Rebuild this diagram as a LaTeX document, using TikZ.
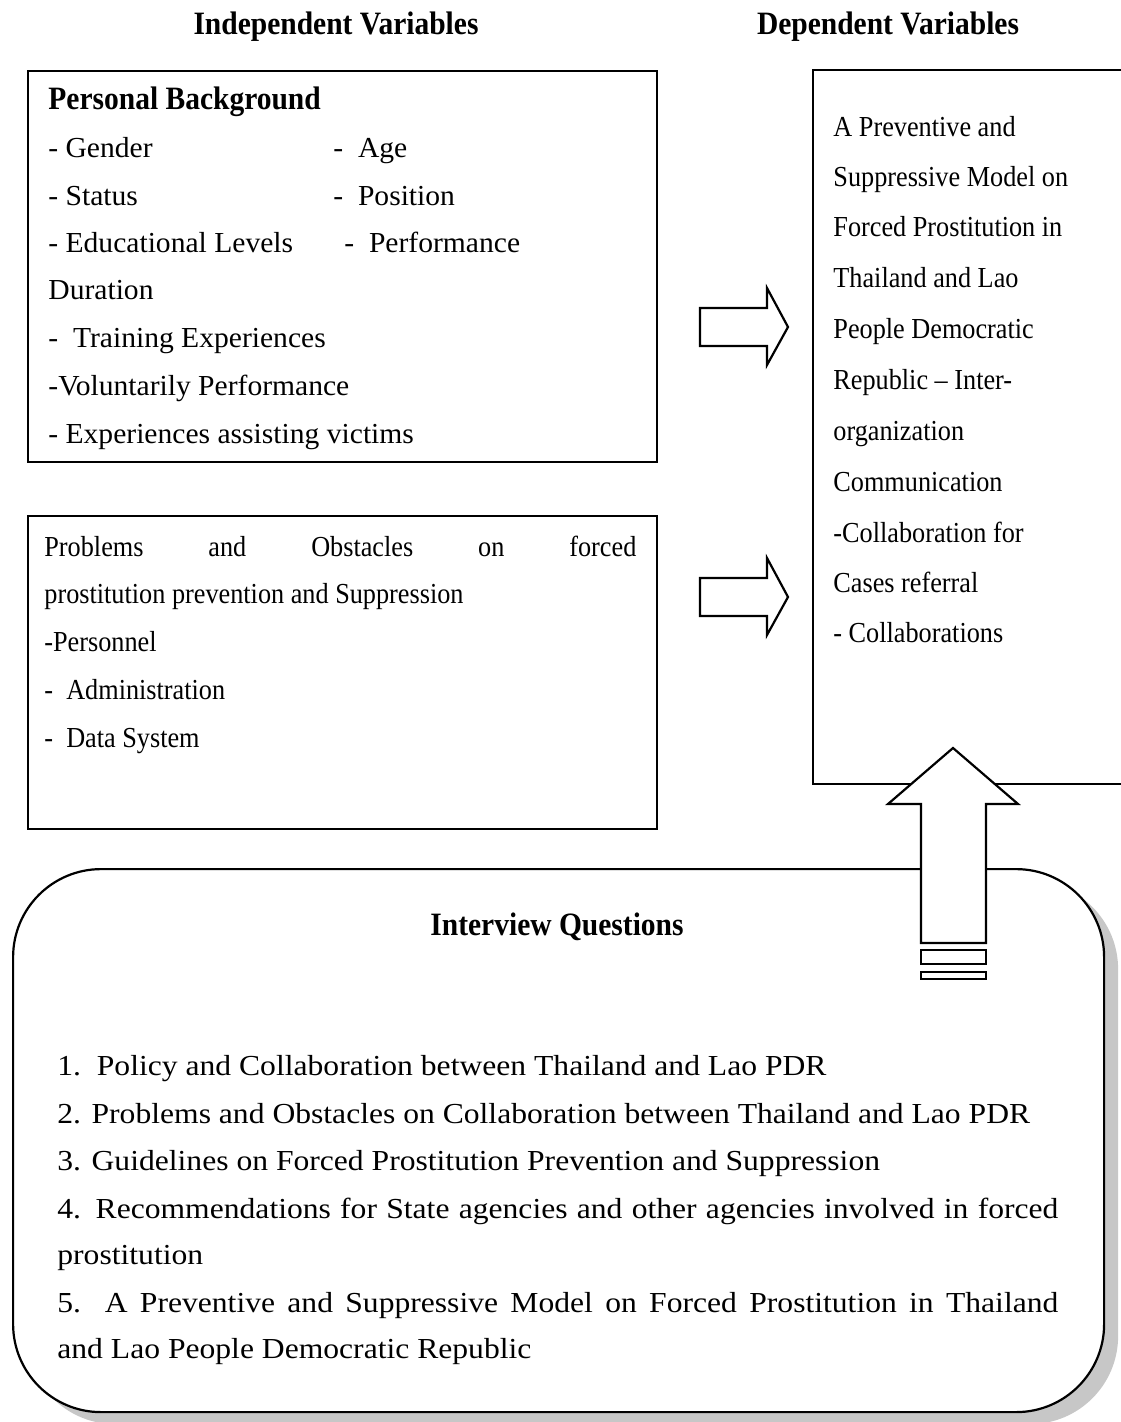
\documentclass[tikz,border=0pt]{standalone}
\usepackage{fontspec}
\setmainfont{Liberation Serif}[FakeStretch=0.905]
\newfontfamily\boxonefont{Liberation Serif}[FakeStretch=1.02]
\newfontfamily\iqfont{Liberation Serif}[FakeStretch=1.09]
\usetikzlibrary{shadows}
\begin{document}
\begin{tikzpicture}[x=0.5pt,y=-0.5pt,
  txt/.style={anchor=base west, inner sep=0pt, font=\fontsize{14.5}{17}\selectfont},
  txtone/.style={anchor=base west, inner sep=0pt, font=\fontsize{14.5}{17}\boxonefont},
  txtiq/.style={anchor=base west, inner sep=0pt, font=\fontsize{14.5}{17}\iqfont},
  hd/.style={anchor=base, inner sep=0pt, font=\fontsize{16.3}{19}\selectfont\bfseries},
  hdl/.style={anchor=base west, inner sep=0pt, font=\fontsize{16.3}{19}\selectfont\bfseries},
  box/.style={draw, line width=1.1pt, anchor=north west, inner sep=0pt},
  blockarrow/.style={draw, fill=white, line width=1.1pt, line join=miter}]
\useasboundingbox (0,0) rectangle (1120,1422);

% titles
\node[hd] (tind) at (336,35) {Independent Variables};
\node[hd] (tdep) at (888,35) {Dependent Variables};

% boxes
\node[box, minimum width=314.5pt, minimum height=195.5pt] (bg) at (27,70) {};
\node[box, minimum width=314.5pt, minimum height=156.5pt] (prob) at (27,515) {};
\node[anchor=north west, inner sep=0pt, minimum width=160pt, minimum height=357pt] (dep) at (813,70) {};
\draw[line width=1.1pt] (1130,70) -| (813,784) -- (1130,784);

% interview box
\node[draw, line width=1.1pt, fill=white, rounded corners=44pt, anchor=north west,
      inner sep=0pt, minimum width=545.5pt, minimum height=271.5pt,
      drop shadow={shadow xshift=7pt, shadow yshift=-6pt, fill=black!22, opacity=1}]
      (iq) at (12,868) {};

% block arrows
\draw[blockarrow] (700,308) -- (767,308) -- (767,288) -- (788,327) -- (767,365) -- (767,346) -- (700,346) -- cycle;
\draw[blockarrow] (700,578) -- (767,578) -- (767,558) -- (788,597) -- (767,635) -- (767,616) -- (700,616) -- cycle;
\draw[blockarrow] (921,943) -- (921,804) -- (888,804) -- (953,748) -- (1018,804) -- (986,804) -- (986,943) -- cycle;
\draw[blockarrow] (921,950) rectangle (986,964);
\draw[blockarrow] (921,972) rectangle (986,979);

% box 1 text
\node[hdl] (pb) at (48,110) {Personal Background};
\node[txtone] (g1) at (48,158) {- Gender};
\node[txtone] (g2) at (333,158) {-\ \ Age};
\node[txtone] (s1) at (48,206) {- Status};
\node[txtone] (s2) at (333,206) {-\ \ Position};
\node[txtone] (e1) at (48,253) {- Educational Levels};
\node[txtone] (e2) at (344,253) {-\ \ Performance};
\node[txtone] (du) at (48,300) {Duration};
\node[txtone] (tr) at (48,348) {-\ \ Training Experiences};
\node[txtone] (vo) at (48,396) {-Voluntarily Performance};
\node[txtone] (ex) at (48,444) {- Experiences assisting victims};

% box 2 text
\node[txt] (p1) at (44,556) {\makebox[296pt][s]{Problems and Obstacles on forced}};
\node[txt] (p2) at (44,603) {prostitution prevention and Suppression};
\node[txt] (p3) at (44,651) {-Personnel};
\node[txt] (p4) at (44,699) {-\ \ Administration};
\node[txt] (p5) at (44,747) {-\ \ Data System};

% dependent text
\node[txt] (d1) at (833,137) {A Preventive and};
\node[txt] (d2) at (833,187) {Suppressive Model on};
\node[txt] (d3) at (833,237) {Forced Prostitution in};
\node[txt] (d4) at (833,288) {Thailand and Lao};
\node[txt] (d5) at (833,339) {People Democratic};
\node[txt] (d6) at (833,390) {Republic -- Inter-};
\node[txt] (d7) at (833,441) {organization};
\node[txt] (d8) at (833,491) {Communication};
\node[txt] (d9) at (833,542) {-Collaboration for};
\node[txt] (d10) at (833,592) {Cases referral};
\node[txt] (d11) at (833,642) {- Collaborations};

% interview text
\node[hd] (iqt) at (557,935) {Interview Questions};
\node[txtiq] (q1) at (57,1075) {1.\ \ Policy and Collaboration between Thailand and Lao PDR};
\node[txtiq] (q2) at (57,1123) {2. Problems and Obstacles on Collaboration between Thailand and Lao PDR};
\node[txtiq] (q3) at (57,1170) {3. Guidelines on Forced Prostitution Prevention and Suppression};
\node[txtiq] (q4) at (57,1218) {\makebox[500.5pt][s]{4. Recommendations for State agencies and other agencies involved in forced}};
\node[txtiq] (q4b) at (57,1264) {prostitution};
\node[txtiq] (q5) at (57,1312) {\makebox[500.5pt][s]{5. A Preventive and Suppressive Model on Forced Prostitution in Thailand}};
\node[txtiq] (q5b) at (57,1358) {and Lao People Democratic Republic};
\end{tikzpicture}
\end{document}
